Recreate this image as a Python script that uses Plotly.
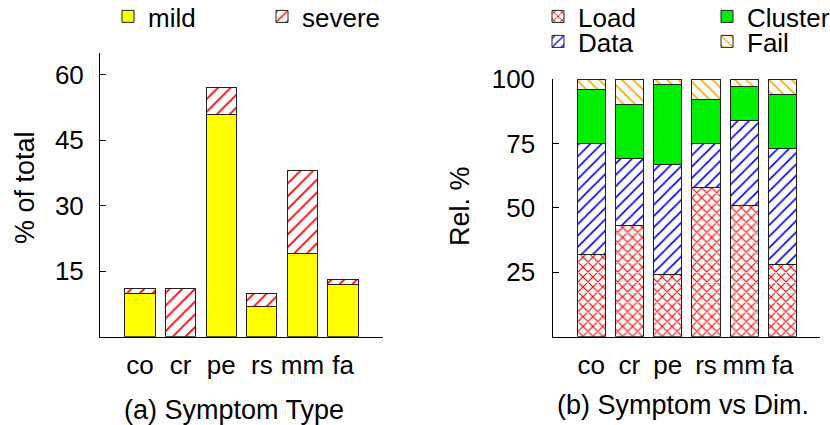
import plotly.graph_objects as go

categories = ["co", "cr", "pe", "rs", "mm", "fa"]

# (a) Symptom Type (% of total)
mild = [10, 0, 51, 7, 19, 12]
severe = [1, 11, 6, 3, 19, 1]

# (b) Symptom vs Dim. (Rel. %)
load = [32, 43, 24, 58, 51, 28]
data = [43, 26, 43, 17, 33, 45]
cluster = [21, 21, 31, 17, 13, 21]
fail = [4, 10, 2, 8, 3, 6]

left_ticks = [15, 30, 45, 60]
right_ticks = [25, 50, 75, 100]

FONT = "Liberation Sans, Arial, Helvetica, sans-serif"
W, H = 830, 425
EDGE = dict(color="#222222", width=1)
BW = 0.74

fig = go.Figure()

fig.add_trace(go.Bar(x=categories, y=mild, name="mild", width=BW,
                     marker=dict(color="#ffff00", line=EDGE),
                     xaxis="x", yaxis="y", legend="legend"))
fig.add_trace(go.Bar(x=categories, y=severe, name="severe", width=BW,
                     marker=dict(color="white", line=EDGE,
                                 pattern=dict(shape="/", fgcolor="#ff0000", bgcolor="white",
                                              fgopacity=1, size=9, solidity=0.2)),
                     xaxis="x", yaxis="y", legend="legend2"))

fig.add_trace(go.Bar(x=categories, y=load, name="Load", width=BW,
                     marker=dict(color="white", line=EDGE,
                                 pattern=dict(shape="x", fgcolor="#ff0000", bgcolor="white",
                                              fgopacity=1, size=7, solidity=0.3)),
                     xaxis="x2", yaxis="y2", legend="legend3"))
fig.add_trace(go.Bar(x=categories, y=data, name="Data", width=BW,
                     marker=dict(color="white", line=EDGE,
                                 pattern=dict(shape="/", fgcolor="#0000ff", bgcolor="white",
                                              fgopacity=1, size=8, solidity=0.2)),
                     xaxis="x2", yaxis="y2", legend="legend4"))
fig.add_trace(go.Bar(x=categories, y=cluster, name="Cluster", width=BW,
                     marker=dict(color="#00ee00", line=EDGE),
                     xaxis="x2", yaxis="y2", legend="legend5"))
fig.add_trace(go.Bar(x=categories, y=fail, name="Fail", width=BW,
                     marker=dict(color="white", line=EDGE,
                                 pattern=dict(shape="\\", fgcolor="#ffa500", bgcolor="white",
                                              fgopacity=1, size=8, solidity=0.2)),
                     xaxis="x2", yaxis="y2", legend="legend6"))

ybot = (H - 336.7) / H
axis_common = dict(showgrid=False, zeroline=False, showline=True, linecolor="black",
                   linewidth=1, tickfont=dict(size=26, color="black"))


def leg(xpx, ypx):
    return dict(orientation="h", x=xpx / W, y=1 - ypx / H, xanchor="left", yanchor="top",
                font=dict(size=26), bgcolor="rgba(0,0,0,0)", borderwidth=0, visible=True)


fig.update_layout(
    width=W, height=H, barmode="stack", showlegend=True,
    paper_bgcolor="white", plot_bgcolor="white",
    margin=dict(l=0, r=0, t=0, b=0, autoexpand=False),
    font=dict(family=FONT, color="black", size=26),
    xaxis=dict(domain=[100 / W, 383 / W], anchor="y", type="category",
               categoryorder="array", categoryarray=categories,
               range=[-0.985, 5.985], showgrid=False, zeroline=False,
               showline=True, linecolor="black", linewidth=1, ticks="",
               tickfont=dict(size=26, color="black"), ticklabelstandoff=5),
    yaxis=dict(domain=[ybot, (H - 53) / H], anchor="x", range=[0, 65],
               tickvals=left_ticks, ticks="inside", ticklen=6, tickcolor="black",
               ticklabelstandoff=10, **axis_common),
    xaxis2=dict(domain=[553.3 / W, 820 / W], anchor="y2", type="category",
                categoryorder="array", categoryarray=categories,
                range=[-0.99, 5.98], showgrid=False, zeroline=False,
                showline=True, linecolor="black", linewidth=1, ticks="",
                tickfont=dict(size=26, color="black"), ticklabelstandoff=5),
    yaxis2=dict(domain=[ybot, (H - 79) / H], anchor="x2", range=[0, 100],
                tickvals=right_ticks, ticks="inside", ticklen=6, tickcolor="black",
                ticklabelstandoff=12, **axis_common),
    legend=leg(108, -7),
    legend2=leg(262, -7),
    legend3=leg(538, -7),
    legend4=leg(538, 18),
    legend5=leg(707, -7),
    legend6=leg(707, 18),
    annotations=[
        dict(text="% of total", x=25 / W, y=(H - 188) / H, xref="paper", yref="paper",
             xanchor="center", yanchor="middle",
             textangle=-90, showarrow=False, font=dict(size=27)),
        dict(text="Rel. %", x=460 / W, y=(H - 206) / H, xref="paper", yref="paper",
             xanchor="center", yanchor="middle",
             textangle=-90, showarrow=False, font=dict(size=27)),
        dict(text="(a) Symptom Type", x=234 / W, y=(H - 410) / H, xref="paper", yref="paper",
             xanchor="center", yanchor="middle", showarrow=False, font=dict(size=27)),
        dict(text="(b) Symptom vs Dim.", x=683 / W, y=(H - 405) / H, xref="paper", yref="paper",
             xanchor="center", yanchor="middle", showarrow=False, font=dict(size=27)),
    ],
)

fig.write_html("out.html", config={"displayModeBar": False},
               post_script="document.body.style.margin='0px';")
